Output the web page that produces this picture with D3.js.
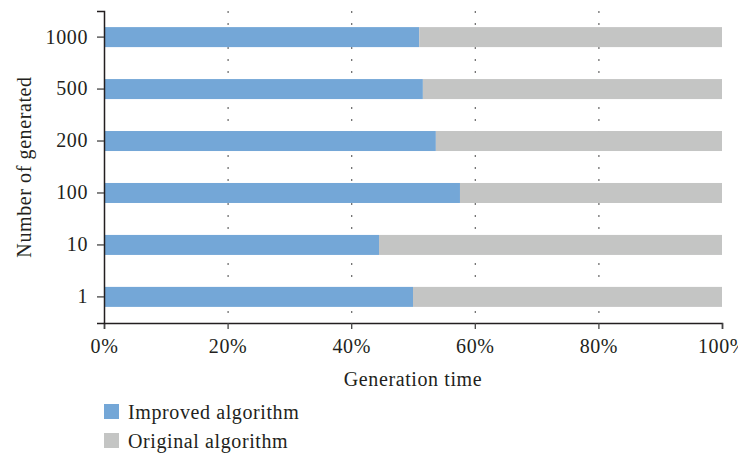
<!DOCTYPE html>
<html>
<head>
<meta charset="utf-8">
<script src="https://cdn.jsdelivr.net/npm/d3@7"></script>
<style>
  body { margin: 0; background: #fff; }
  svg { display: block; }
</style>
</head>
<body>
<svg id="chart" width="738" height="456"></svg>
<script>
// Share of generation time per algorithm, by number generated
const categories = ["1000", "500", "200", "100", "10", "1"];
const improved = [51.0, 51.6, 53.7, 57.6, 44.5, 50.0];
const original = [49.0, 48.4, 46.3, 42.4, 55.5, 50.0];
const seriesNames = ["Improved algorithm", "Original algorithm"];
const seriesColors = ["#74a7d7", "#c4c5c4"];
const xTickValues = [0, 20, 40, 60, 80, 100];

const FONT = '"Liberation Serif", "Times New Roman", serif';
const TEXT_COLOR = "#231f20";
const styleText = sel => sel
  .style("font-family", FONT).style("font-size", "20px")
  .style("letter-spacing", "0.6px").attr("fill", TEXT_COLOR);

const svg = d3.select("#chart");
const margin = { left: 104, right: 16, top: 11, bottom: 133 };
const W = 738, H = 456;

const x = d3.scaleLinear().domain([0, 100]).range([margin.left, W - margin.right]);
const y = d3.scaleBand().domain(categories).range([margin.top, H - margin.bottom])
  .paddingInner(0.615).paddingOuter(0.31);

// dotted vertical gridlines
svg.append("g").selectAll("line")
  .data(xTickValues.filter(v => v > 0 && v < 100))
  .join("line")
  .attr("x1", d => x(d) + 0.5).attr("x2", d => x(d) + 0.5)
  .attr("y1", margin.top).attr("y2", H - margin.bottom)
  .attr("stroke", "#666").attr("stroke-width", 1.2)
  .attr("stroke-dasharray", "2,10");

// stacked bars
const rows = categories.map((c, i) => ({ c, a: improved[i], b: original[i] }));
const bars = svg.append("g");
bars.selectAll("rect.imp").data(rows).join("rect")
  .attr("class", "imp")
  .attr("x", x(0)).attr("y", d => y(d.c))
  .attr("width", d => x(d.a) - x(0)).attr("height", y.bandwidth())
  .attr("fill", seriesColors[0]);
bars.selectAll("rect.orig").data(rows).join("rect")
  .attr("class", "orig")
  .attr("x", d => x(d.a)).attr("y", d => y(d.c))
  .attr("width", d => x(d.a + d.b) - x(d.a)).attr("height", y.bandwidth())
  .attr("fill", seriesColors[1]);

// axes
const xAxis = svg.append("g")
  .attr("transform", `translate(0,${H - margin.bottom})`)
  .call(d3.axisBottom(x).tickValues(xTickValues).tickFormat(d => d + "%").tickSize(6).tickPadding(10));
const yAxis = svg.append("g")
  .attr("transform", `translate(${margin.left},0)`)
  .call(d3.axisLeft(y).tickSize(7).tickPadding(9));
[xAxis, yAxis].forEach(g => {
  g.select(".domain").attr("stroke", TEXT_COLOR).attr("stroke-width", 1.5);
  g.selectAll(".tick line").attr("stroke", "#444").attr("stroke-width", 1.3);
  g.selectAll(".tick text").call(styleText);
});

// axis titles
svg.append("text").attr("x", x(50)).attr("y", 386).attr("text-anchor", "middle")
  .call(styleText).text("Generation time");
svg.append("text")
  .attr("transform", `translate(31,${(margin.top + H - margin.bottom) / 2}) rotate(-90)`)
  .attr("text-anchor", "middle").call(styleText).text("Number of generated");

// legend
const legend = svg.append("g").selectAll("g").data(seriesNames).join("g")
  .attr("transform", (d, i) => `translate(104,${404 + i * 29})`);
legend.append("rect").attr("width", 15).attr("height", 15).attr("fill", (d, i) => seriesColors[i]);
legend.append("text").attr("x", 24).attr("y", 15).call(styleText).text(d => d);
</script>
</body>
</html>
